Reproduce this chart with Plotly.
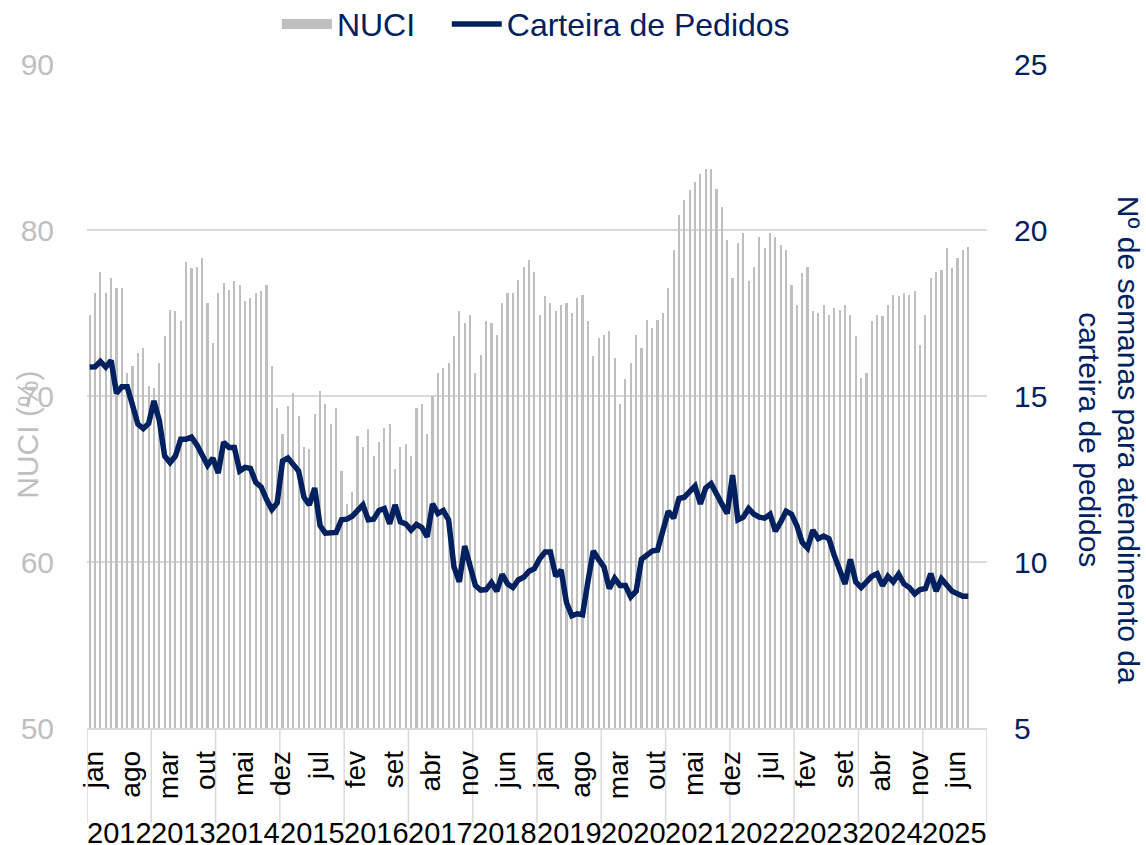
import plotly.graph_objects as go

# ---- data (monthly, jan 2012 .. set 2025) ----
nuci = [
    74.9, 76.2, 77.5, 76.2, 77.1, 76.5, 76.5, 71.4, 71.8, 72.6, 72.9, 70.6,   # 2012
    70.5, 72.0, 73.6, 75.2, 75.1, 74.5, 78.1, 77.7, 77.8, 78.3, 75.6, 73.2,   # 2013
    76.2, 76.8, 76.4, 76.9, 76.7, 75.7, 75.9, 76.2, 76.3, 76.7, 71.8, 69.3,   # 2014
    67.7, 69.4, 70.2, 68.8, 66.9, 66.8, 68.9, 70.3, 69.5, 68.3, 69.3, 65.5,   # 2015
    63.5, 64.2, 67.6, 66.9, 68.0, 66.4, 67.2, 68.1, 68.3, 65.6, 66.9, 67.1,   # 2016
    66.4, 69.3, 69.5, 67.7, 70.0, 71.4, 71.7, 72.0, 73.6, 75.1, 74.4, 74.9,   # 2017
    71.4, 72.5, 74.5, 74.4, 73.7, 75.6, 76.2, 76.2, 77.0, 77.8, 78.2, 77.5,   # 2018
    74.9, 76.0, 75.6, 75.1, 75.5, 75.6, 75.0, 75.9, 76.1, 74.5, 72.4, 73.5,   # 2019
    73.7, 73.9, 72.3, 69.5, 71.0, 72.0, 73.7, 72.9, 74.6, 74.1, 74.6, 75.0,   # 2020
    76.5, 78.8, 80.9, 81.8, 82.4, 82.9, 83.4, 83.7, 83.7, 82.5, 81.4, 79.4,   # 2021
    77.1, 79.2, 79.8, 76.9, 77.8, 79.6, 78.9, 79.8, 79.6, 79.1, 78.8, 76.7,   # 2022
    75.5, 77.4, 77.8, 75.1, 75.0, 75.5, 74.9, 75.3, 75.2, 75.5, 74.9, 73.6,   # 2023
    71.1, 71.4, 74.5, 74.9, 74.8, 75.5, 76.1, 76.0, 76.2, 76.1, 76.3, 73.1,   # 2024
    74.9, 77.1, 77.5, 77.6, 78.9, 77.7, 78.3, 78.8, 79.0,                     # 2025
]

carteira = [
    15.87, 15.88, 16.04, 15.87, 16.07, 15.08, 15.28, 15.28, 14.72, 14.15, 14.02, 14.17,
    14.85, 14.26, 13.19, 12.99, 13.19, 13.70, 13.70, 13.76, 13.53, 13.25, 12.91, 13.13,
    12.68, 13.61, 13.45, 13.45, 12.74, 12.85, 12.82, 12.40, 12.26, 11.89, 11.58, 11.78,
    13.04, 13.13, 12.91, 12.74, 11.95, 11.72, 12.23, 11.10, 10.87, 10.89, 10.89, 11.27,
    11.29, 11.38, 11.55, 11.72, 11.27, 11.29, 11.55, 11.61, 11.15, 11.72, 11.21, 11.15,
    10.96, 11.13, 11.04, 10.76, 11.75, 11.46, 11.55, 11.27, 9.85, 9.40, 10.48, 9.80,
    9.29, 9.15, 9.17, 9.38, 9.12, 9.63, 9.34, 9.23, 9.46, 9.54, 9.72, 9.80,
    10.10, 10.30, 10.30, 9.57, 9.76, 8.78, 8.38, 8.44, 8.41, 9.40, 10.33, 10.08,
    9.85, 9.20, 9.51, 9.29, 9.29, 8.95, 9.12, 10.08, 10.22, 10.33, 10.36, 10.98,
    11.53, 11.32, 11.91, 11.95, 12.12, 12.29, 11.75, 12.23, 12.36, 12.02, 11.75, 11.46,
    12.62, 11.27, 11.35, 11.61, 11.44, 11.35, 11.32, 11.44, 10.93, 11.21, 11.53, 11.44,
    11.10, 10.59, 10.42, 10.96, 10.70, 10.78, 10.70, 10.19, 9.70, 9.34, 10.08, 9.40,
    9.23, 9.40, 9.57, 9.65, 9.29, 9.57, 9.40, 9.63, 9.34, 9.23, 9.04, 9.17,
    9.20, 9.65, 9.12, 9.49, 9.31, 9.12, 9.04, 8.97, 8.97,
]

years = [2012, 2013, 2014, 2015, 2016, 2017, 2018, 2019, 2020, 2021, 2022, 2023, 2024, 2025]
month_tick_labels = ["jan", "ago", "mar", "out", "mai", "dez", "jul", "fev", "set", "abr", "nov", "jun",
                     "jan", "ago", "mar", "out", "mai", "dez", "jul", "fev", "set", "abr", "nov", "jun"]
tick_step = 7

# ---- derived positions ----
x = list(range(len(nuci)))
n_slots = 12 * len(years)
tickvals = [i * tick_step for i in range(len(month_tick_labels))]

NAVY = "#002060"
GRAY_BAR = "#BFBFBF"
GRID = "#D9D9D9"
FONT = "Arial, Liberation Sans, sans-serif"
NBSP = "\u00a0"

fig = go.Figure()
fig.add_trace(go.Bar(x=x, y=nuci, name="NUCI", marker=dict(color=GRAY_BAR, line=dict(width=0)),
                     width=0.4, showlegend=False, yaxis="y"))
# legend proxy for the bar series (wide rectangle)
fig.add_trace(go.Scatter(x=[None], y=[None], mode="lines", name="NUCI" + NBSP * 3,
                         line=dict(color=GRAY_BAR, width=16), yaxis="y"))
fig.add_trace(go.Scatter(x=x, y=carteira, mode="lines", name="Carteira de Pedidos",
                         line=dict(color=NAVY, width=5.5), yaxis="y2"))

shapes = []
for k in range(len(years) + 1):
    shapes.append(dict(type="line", xref="x", yref="paper", x0=12 * k - 0.5, x1=12 * k - 0.5,
                       y0=0, y1=-0.143, line=dict(color=GRID, width=1.5), layer="below"))

annotations = []
for k, yr in enumerate(years):
    annotations.append(dict(x=12 * k + 5.5, xref="x", y=-0.158, yref="paper", text=str(yr),
                            showarrow=False, font=dict(size=29, color="#000000", family=FONT),
                            xanchor="center", yanchor="middle"))
annotations.append(dict(x=-0.066, xref="paper", y=0.441, yref="paper", text="NUCI (%)",
                        textangle=-90, showarrow=False,
                        font=dict(size=30, color=GRAY_BAR, family=FONT),
                        xanchor="center", yanchor="middle"))
annotations.append(dict(x=1.1356, xref="paper", y=0.434, yref="paper",
                        text="Nº de semanas para atendimento da<br>carteira de pedidos",
                        textangle=90, showarrow=False,
                        font=dict(size=30, color=NAVY, family=FONT),
                        xanchor="center", yanchor="middle"))

fig.update_layout(
    width=1146, height=845,
    margin=dict(l=87, r=159, t=64, b=117, autoexpand=False),
    paper_bgcolor="white", plot_bgcolor="white",
    font=dict(family=FONT, size=30, color="#000000"),
    bargap=0,
    showlegend=True,
    legend=dict(orientation="h", x=0.211, xanchor="left", y=1.06, yanchor="middle",
                font=dict(size=32, color=NAVY, family=FONT), itemwidth=50,
                bgcolor="rgba(0,0,0,0)", traceorder="normal"),
    xaxis=dict(range=[-0.5, n_slots - 0.5], tickmode="array", tickvals=tickvals,
               ticktext=month_tick_labels, tickangle=-90, showgrid=False,
               tickfont=dict(size=28, color="#000000", family=FONT),
               showline=True, linecolor=GRID, linewidth=1.5, ticks="", ticklabelstandoff=10,
               ticklabelshift=4, zeroline=False, automargin=False),
    yaxis=dict(range=[50, 90], dtick=10, tick0=50, showgrid=True, gridcolor=GRID, gridwidth=1.5,
               tickfont=dict(size=30, color=GRAY_BAR, family=FONT), zeroline=False,
               ticks="", ticklabelstandoff=32, showline=False, automargin=False),
    yaxis2=dict(range=[5, 25], dtick=5, tick0=5, overlaying="y", side="right", showgrid=False,
                tickfont=dict(size=30, color=NAVY, family=FONT), zeroline=False,
                ticks="", ticklabelstandoff=26, showline=False, automargin=False),
    shapes=shapes,
    annotations=annotations,
)

fig.write_html("out.html", config={"displayModeBar": False},
               post_script="document.body.style.margin='0px';"
                           "document.body.style.overflow='hidden';")
